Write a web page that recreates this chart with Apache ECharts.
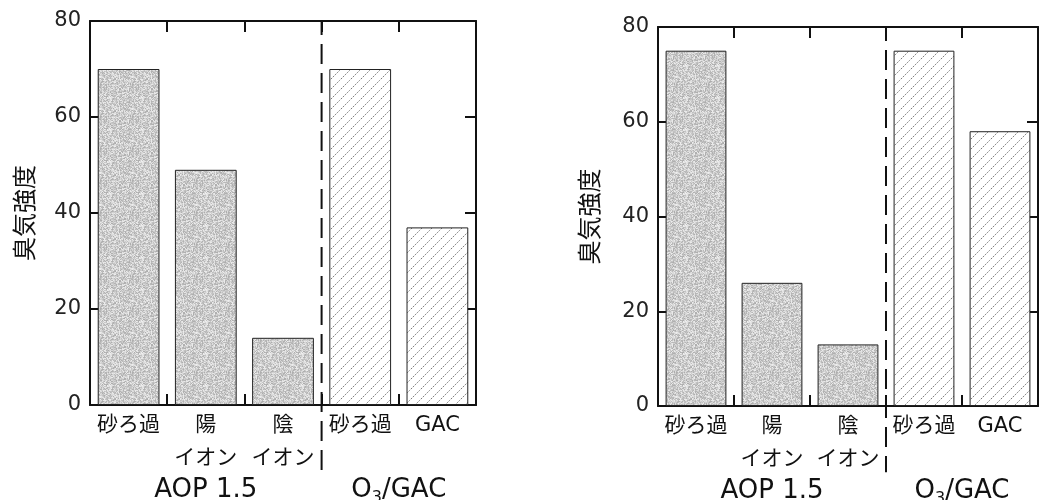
<!DOCTYPE html>
<html><head><meta charset="utf-8">
<script src="https://cdn.jsdelivr.net/npm/echarts@6/dist/echarts.min.js"></script>
<style>html,body{margin:0;padding:0;background:#fff}#c{width:1041px;height:500px}</style>
</head><body><div id="c"></div>
<script>
const categories = ['砂ろ過', '陽\nイオン', '陰\nイオン', '砂ろ過', 'GAC'];
const leftAOP = [70, 49, 14, null, null];
const leftO3 = [null, null, null, 70, 37];
const rightAOP = [75, 26, 13, null, null];
const rightO3 = [null, null, null, 75, 58];
const yTicks = [0, 20, 40, 60, 80];
const yName = '臭気強度';
const groupNames = ['AOP 1.5', 'O3/GAC'];
const dividerAt = 3;   // category boundary index of the dashed divider
const dividerRange = [80, -14];

function hatch() {
  const c = document.createElement('canvas'); c.width = 10; c.height = 10;
  const g = c.getContext('2d');
  g.fillStyle = '#fff'; g.fillRect(0, 0, 10, 10);
  g.strokeStyle = '#6a6a6a'; g.lineWidth = 0.9; g.setLineDash([1.6, 1.1]);
  g.beginPath();
  g.moveTo(-1, 11); g.lineTo(11, -1);
  g.moveTo(-11, 11); g.lineTo(1, -1);
  g.moveTo(9, 11); g.lineTo(21, -1);
  g.stroke();
  return c;
}
function stipple() {
  const n = 32;
  const c = document.createElement('canvas'); c.width = n; c.height = n;
  const g = c.getContext('2d');
  const img = g.createImageData(n, n);
  let h = 2166136261;
  for (let p = 0; p < n * n; p++) {
    h ^= p * 2654435761; h = Math.imul(h, 16777619) >>> 0;
    h ^= h >>> 13; h = Math.imul(h, 1274126177) >>> 0;
    const v = 172 + (h % 66);
    img.data[p * 4] = v; img.data[p * 4 + 1] = v; img.data[p * 4 + 2] = v; img.data[p * 4 + 3] = 255;
  }
  g.putImageData(img, 0, 0);
  return c;
}
const hatchPat = { image: hatch(), repeat: 'repeat' };
const grayPat = { image: stipple(), repeat: 'repeat' };

const FONT = '"DejaVu Sans", "Noto Sans CJK JP", sans-serif';
const grids = [
  { left: 90, top: 21, width: 386, height: 384 },
  { left: 658, top: 27, width: 380, height: 379 }
];
const lineS = { show: true, onZero: false, lineStyle: { color: '#111', width: 2 } };
const tickS = { show: true, length: 11, lineStyle: { color: '#111', width: 2 } };
const noTick = { show: false };
const yMin = yTicks[0], yMax = yTicks[yTicks.length - 1];

const xAxis = [], yAxis = [], series = [], graphic = [];
grids.forEach((gr, gi) => {
  const xb = xAxis.length, yb = yAxis.length;
  xAxis.push({
    type: 'category', gridIndex: gi, data: categories, position: 'bottom',
    axisLine: lineS, axisTick: noTick,
    axisLabel: { color: '#111', fontSize: 21, fontFamily: FONT, lineHeight: 33, margin: 4, interval: 0 }
  });
  xAxis.push({
    type: 'category', gridIndex: gi, data: categories, position: 'top',
    axisLine: { show: false, onZero: true, onZeroAxisIndex: yb },
    axisTick: tickS, axisLabel: { show: false }
  });
  xAxis.push({
    type: 'category', gridIndex: gi, data: categories, position: 'bottom',
    axisLine: { show: true, onZero: true, onZeroAxisIndex: yb + 3, lineStyle: { color: '#111', width: 2 } },
    axisTick: tickS, axisLabel: { show: false }
  });
  xAxis.push({ type: 'value', gridIndex: gi, min: 0, max: categories.length, show: false, axisLine: { onZero: false } });
  xAxis.push({ type: 'value', gridIndex: gi, min: -categories.length, max: 0, show: false, axisLine: { onZero: false } });

  yAxis.push({
    type: 'value', gridIndex: gi, min: yMin, max: yMax, interval: 20,
    position: 'left', name: yName, nameLocation: 'middle', nameGap: gi === 0 ? 54 : 57,
    nameTextStyle: { fontSize: 24, color: '#111', fontFamily: '"Noto Sans CJK JP", sans-serif' },
    axisLine: lineS, axisTick: noTick,
    axisLabel: { color: '#222', fontSize: 21, fontFamily: FONT, margin: 9 },
    splitLine: { show: false }
  });
  yAxis.push({
    type: 'value', gridIndex: gi, min: yMin, max: yMax, interval: 20, position: 'right',
    axisLine: { show: false, onZero: true, onZeroAxisIndex: xb + 3 },
    axisTick: tickS, axisLabel: { show: false }, splitLine: { show: false }
  });
  yAxis.push({
    type: 'value', gridIndex: gi, min: yMin, max: yMax, interval: 20, position: 'left',
    axisLine: { show: true, onZero: true, onZeroAxisIndex: xb + 4, lineStyle: { color: '#111', width: 2 } },
    axisTick: tickS, axisLabel: { show: false }, splitLine: { show: false }
  });
  yAxis.push({ type: 'value', gridIndex: gi, min: -yMax, max: 0, show: false, axisLine: { onZero: false } });

  const aop = gi === 0 ? leftAOP : rightAOP;
  const o3 = gi === 0 ? leftO3 : rightO3;
  series.push({
    type: 'bar', xAxisIndex: xb, yAxisIndex: yb, data: aop,
    barCategoryGap: '20%', barGap: '-100%',
    itemStyle: { color: grayPat, borderColor: '#222', borderWidth: 1 }
  });
  series.push({
    type: 'bar', xAxisIndex: xb, yAxisIndex: yb, data: o3,
    barCategoryGap: '20%', barGap: '-100%',
    itemStyle: { color: hatchPat, borderColor: '#222', borderWidth: 1 }
  });
  series.push({
    type: 'line', xAxisIndex: xb + 3, yAxisIndex: yb, clip: false,
    data: [[dividerAt, dividerRange[0]], [dividerAt, dividerRange[1]]],
    symbol: 'none', silent: true,
    lineStyle: { color: '#111', width: 2, type: [20, 9], dashOffset: 6 }
  });
  const cw = gr.width / categories.length;
  const gy = gr.top + gr.height + 85;
  graphic.push({
    type: 'text', x: gr.left + cw * 1.5, y: gy,
    style: { text: groupNames[0], font: '26px ' + FONT, fill: '#111', textAlign: 'center', textVerticalAlign: 'middle' }
  });
  graphic.push({
    type: 'text', x: gr.left + cw * 4, y: gy,
    style: {
      text: '{a|O}{s|3}{a|/GAC}', textAlign: 'center', textVerticalAlign: 'middle',
      rich: {
        a: { font: '26px ' + FONT, fill: '#111' },
        s: { font: '16px ' + FONT, fill: '#111', padding: [16, 0, 0, 0] }
      }
    }
  });
});

const chart = echarts.init(document.getElementById('c'), null, { renderer: 'canvas' });
chart.setOption({
  animation: false, backgroundColor: '#fff',
  grid: grids, xAxis, yAxis, series, graphic
});
</script></body></html>
